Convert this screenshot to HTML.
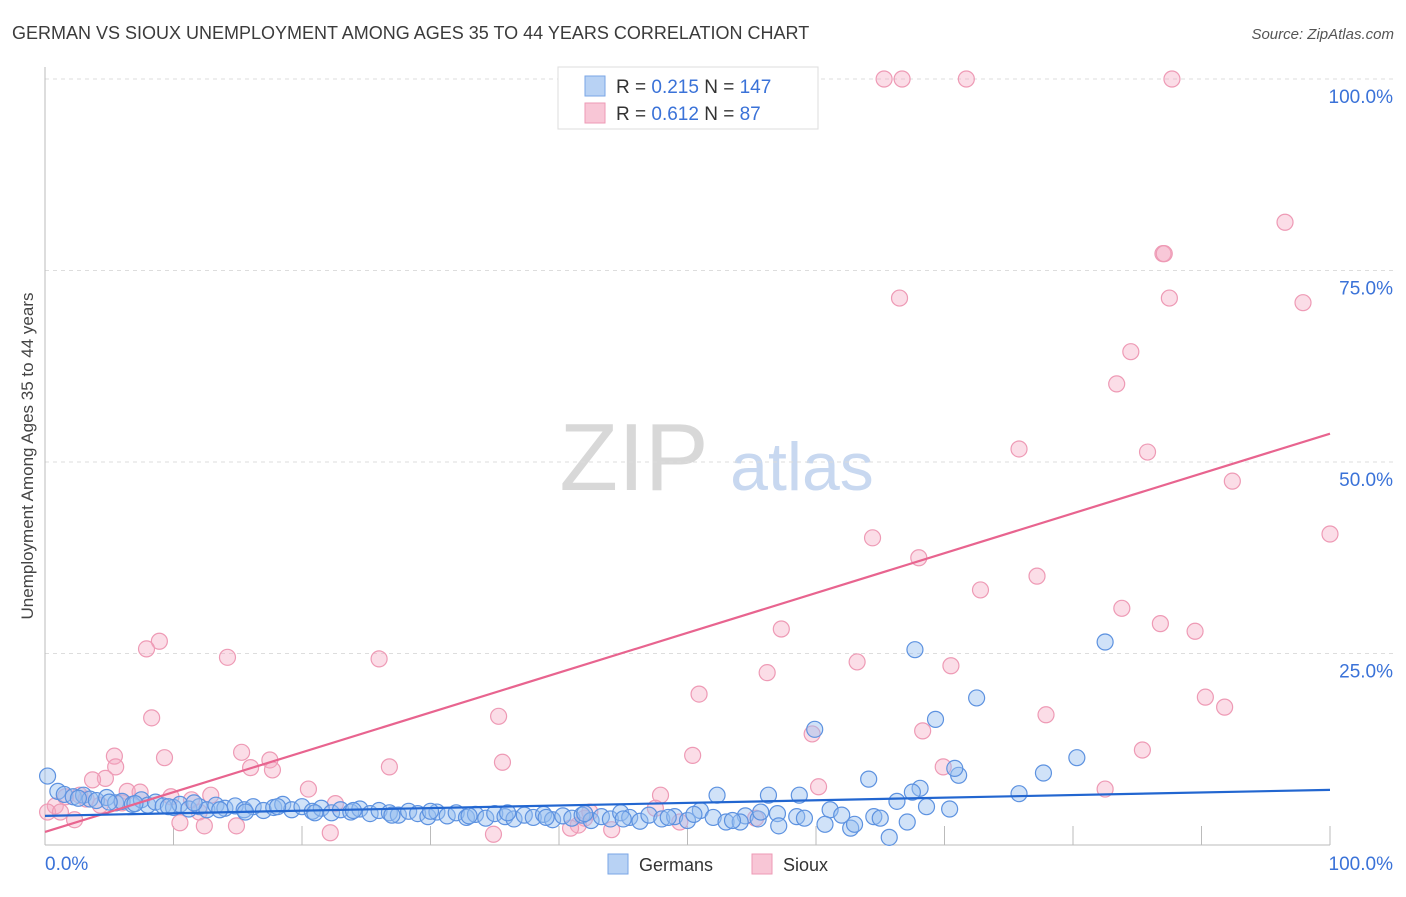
<!DOCTYPE html>
<html><head><meta charset="utf-8"><style>
body{margin:0;background:#fff;font-family:"Liberation Sans",sans-serif}
svg text{font-family:"Liberation Sans",sans-serif}
</style></head><body>
<svg id="chart" width="1406" height="892" xmlns="http://www.w3.org/2000/svg">
<text x="12" y="39" font-size="18" fill="#3b3b3b">GERMAN VS SIOUX UNEMPLOYMENT AMONG AGES 35 TO 44 YEARS CORRELATION CHART</text>
<text x="1394" y="39" font-size="15" fill="#555" text-anchor="end" font-style="italic">Source: ZipAtlas.com</text>
<text transform="translate(33,456) rotate(-90)" font-size="17" fill="#444" text-anchor="middle">Unemployment Among Ages 35 to 44 years</text>
<g>
<text x="634" y="490" font-size="96" font-family="Liberation Serif" fill="#d8d8d8" text-anchor="middle">ZIP</text>
<text x="802" y="490" font-size="68" fill="#c8d8f0" text-anchor="middle">atlas</text>
</g>
<g id="grid"></g>
<g id="pts"></g>
<g id="lines"></g>
<g>
<rect x="558" y="67" width="260" height="62" fill="#fff" stroke="#ddd"/>
<rect x="585" y="76" width="20" height="20" fill="#b8d2f4" stroke="#7aa6e6"/>
<text x="616" y="93" font-size="19" fill="#333">R = <tspan fill="#3a72d8">0.215</tspan>   N = <tspan fill="#3a72d8">147</tspan></text>
<rect x="585" y="103" width="20" height="20" fill="#f8c6d6" stroke="#ee9ab5"/>
<text x="616" y="120" font-size="19" fill="#333">R = <tspan fill="#3a72d8">0.612</tspan>   N =   <tspan fill="#3a72d8">87</tspan></text>
</g>
<g>
<rect x="608" y="854" width="20" height="20" fill="#b8d2f4" stroke="#7aa6e6"/>
<text x="639" y="871" font-size="18" fill="#333">Germans</text>
<rect x="752" y="854" width="20" height="20" fill="#f8c6d6" stroke="#ee9ab5"/>
<text x="783" y="871" font-size="18" fill="#333">Sioux</text>
</g>
</svg>
<script>
const yTicks=[0,25,50,75,100];
const yTickLabels=["","25.0%","50.0%","75.0%","100.0%"];
const xTicks=[0,10,20,30,40,50,60,70,80,90,100];
const blueX=[1,1.5,2.2,3,3.5,4,4.8,5.5,6,6.8,7.5,8,8.6,9.2,10,10.5,11.2,12,12.6,13.3,14,14.8,15.5,16.2,17,17.8,18.5,19.2,20,20.8,21.5,22.3,23,23.8,24.5,25.3,26,26.8,27.5,28.3,29,29.8,30.5,31.3,32,32.8,33.5,34.3,35,35.8,36.5,37.3,38,38.8,39.5,40.3,41,41.8,42.5,43.3,44,44.8,45.5,46.3,47,48,49,50,51,52,53,54.5,55.5,57,58.5,
0.2,82.5,67.7,72.5,69.3,59.9,80.3,77.7,71.1,70.8,64.1,68.1,67.5,58.7,52.3,56.3,75.8,66.3,70.4,68.6,61.1,62,64.5,67.1,65.7,62.7,60.7,57.1,54.1,55.7,63,65,59.1,
2.6,5,7,9.6,11.6,13.6,15.6,18.1,21,24,27,30,33,36,39,42,45,48.5,50.5,53.5];
const blueY=[7,6.6,6.3,6.5,6,5.8,6.2,5.5,5.7,5.3,5.9,5.2,5.6,5.1,4.9,5.3,4.7,5,4.6,5.2,4.8,5.1,4.6,5,4.5,4.9,5.3,4.6,5,4.4,4.8,4.2,4.6,4.3,4.7,4.1,4.5,4.2,3.9,4.4,4.1,3.7,4.3,3.8,4.2,3.6,4,3.5,4.1,3.7,3.4,3.9,3.6,4,3.3,3.8,3.5,3.9,3.2,3.7,3.4,4.2,3.6,3.1,3.9,3.4,3.7,3.2,4.5,3.6,3,3.8,3.4,4.1,3.7,
9,26.5,25.5,19.2,16.4,15.1,11.4,9.4,9.1,10,8.6,7.4,6.9,6.5,6.5,6.5,6.7,5.7,4.7,5,4.6,3.9,3.7,3,1,2.2,2.7,2.5,3,4.3,2.7,3.5,3.5,
6.1,5.6,5.4,5,5.5,4.6,4.3,5,4.2,4.5,3.9,4.4,3.8,4.2,3.6,4.1,3.4,3.6,4,3.2];
const pinkX=[46.5,65.3,66.7,71.7,87.7,96.5,87,87.1,97.9,66.5,87.5,84.5,83.4,75.8,85.8,92.4,100,64.4,68,72.8,77.2,83.8,86.8,89.5,57.3,63.2,70.5,56.2,50.9,90.3,91.8,77.9,68.3,59.7,50.4,85.4,69.9,60.2,82.5,8.9,7.9,14.2,26,8.3,35.3,15.3,9.3,5.4,17.5,5.5,16,17.7,26.8,35.6,4.7,3.7,6.4,7.4,20.5,47.9,12.9,9.8,11.4,1.6,2.7,4.3,0.8,0.2,1.2,12,22.6,47.5,42,41.5,10.5,12.4,14.9,2.3,22.2,34.9,40.9,44.1,49.4,55.3,42.4,3.2,6];
const pinkY=[100,100,100,100,100,81.3,77.2,77.2,70.8,71.4,71.4,64.4,60.2,51.7,51.3,47.5,40.6,40.1,37.5,33.3,35.1,30.9,28.9,27.9,28.2,23.9,23.4,22.5,19.7,19.3,18,17,14.9,14.5,11.7,12.4,10.2,7.6,7.3,26.6,25.6,24.5,24.3,16.6,16.8,12.1,11.4,11.6,11.1,10.2,10.1,9.8,10.2,10.8,8.7,8.5,7,6.9,7.3,6.5,6.5,6.3,5.9,6.3,6.5,5.2,5.1,4.3,4.3,4.3,5.4,4.8,3.5,2.6,2.9,2.5,2.5,3.3,1.6,1.4,2.2,2,3,3.5,4.3,6,5.5];
const blueTrend=[3.8,7.2];
const pinkTrend=[1.7,53.7];
const X0=45,X1=1330,Y0=845,Y1=79;
const xs=v=>X0+(X1-X0)*v/100, ys=v=>Y0-(Y0-Y1)*v/100;
const NS="http://www.w3.org/2000/svg";
function mk(tag,attrs,parent){const e=document.createElementNS(NS,tag);for(const k in attrs)e.setAttribute(k,attrs[k]);parent.appendChild(e);return e;}
const grid=document.getElementById('grid');
yTicks.forEach((t,i)=>{
 if(t>0){const l=mk('line',{x1:X0,x2:1394,y1:ys(t),y2:ys(t),stroke:'#ddd','stroke-dasharray':'4,4'},grid);
 
 
 const tx=mk('text',{x:1393,y:ys(t)+24,'font-size':19,fill:'#3a72d8','text-anchor':'end'},grid);tx.textContent=yTickLabels[i];
 
 }
});
const ax=mk('line',{x1:X0,x2:X1,y1:Y0,y2:Y0,stroke:'#bbb'},grid);


const ay=mk('line',{x1:X0,x2:X0,y1:67,y2:Y0,stroke:'#bbb'},grid);


xTicks.forEach(t=>{const l=mk('line',{x1:xs(t),x2:xs(t),y1:Y0,y2:Y0-19,stroke:'#bbb'},grid);
 
 });
const xl0=mk('text',{x:45,y:870,'font-size':19,fill:'#3a72d8'},grid);xl0.textContent='0.0%';


const xl1=mk('text',{x:1393,y:870,'font-size':19,fill:'#3a72d8','text-anchor':'end'},grid);xl1.textContent='100.0%';


const pts=document.getElementById('pts');
pinkX.forEach((x,i)=>{const c=mk('circle',{cx:xs(x),cy:ys(pinkY[i]),r:8,fill:'rgba(244,170,195,0.4)',stroke:'#ee9ab5','stroke-width':1.2},pts);
 
 });
blueX.forEach((x,i)=>{const c=mk('circle',{cx:xs(x),cy:ys(blueY[i]),r:8,fill:'rgba(150,190,240,0.45)',stroke:'#5d92e0','stroke-width':1.2},pts);
 
 });
const lines=document.getElementById('lines');
const pl=mk('line',{x1:xs(0),y1:ys(pinkTrend[0]),x2:xs(100),y2:ys(pinkTrend[1]),stroke:'#e8648f','stroke-width':2.2},lines);


const bl=mk('line',{x1:xs(0),y1:ys(blueTrend[0]),x2:xs(100),y2:ys(blueTrend[1]),stroke:'#2266d0','stroke-width':2.2},lines);


</script>
</body></html>
